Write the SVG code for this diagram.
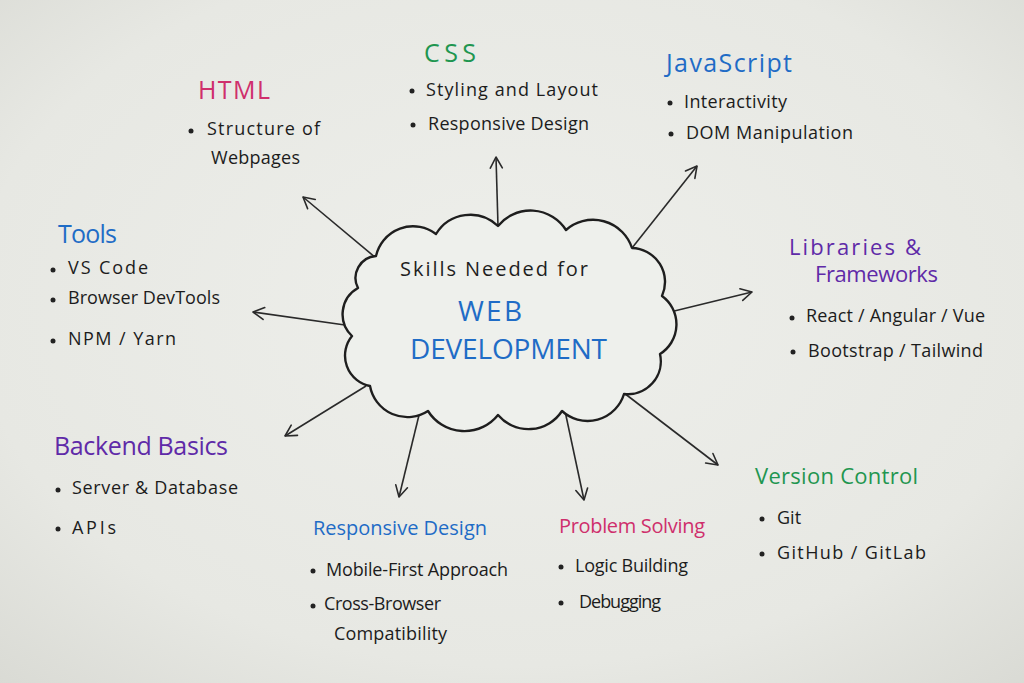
<svg xmlns="http://www.w3.org/2000/svg" width="1024" height="683" viewBox="0 0 1024 683">
<defs>
<radialGradient id="bg" cx="50%" cy="45%" r="75%">
<stop offset="0" stop-color="#eeefeb"/>
<stop offset="0.7" stop-color="#e7e8e3"/>
<stop offset="1" stop-color="#d9dad4"/>
</radialGradient>
<marker id="arr" markerWidth="16" markerHeight="16" refX="13" refY="8" orient="auto" markerUnits="userSpaceOnUse">
<path d="M2,2 L13,8 L2,14" fill="none" stroke="#2a2a2a" stroke-width="1.6" stroke-linecap="round" stroke-linejoin="round"/>
</marker>
</defs>
<style>
text{font-family:"Open Sans","Liberation Sans",sans-serif;}
.h{font-size:25px;font-weight:500;}
.t{font-size:18px;fill:#1c1c1c;}
.dot{fill:#222;}
.pink{fill:#cf2f6c;}
.green{fill:#1f9650;}
.blue{fill:#1f6cc6;}
.purple{fill:#5f2aa8;}
.line{stroke:#2a2a2a;stroke-width:1.6;fill:none;marker-end:url(#arr);}
</style>
<rect width="1024" height="683" fill="url(#bg)"/>

<g id="connectors">
<line class="line" x1="376" y1="258" x2="303" y2="197"/>
<line class="line" x1="498" y1="226" x2="496" y2="157"/>
<line class="line" x1="632" y1="248" x2="697" y2="166"/>
<line class="line" x1="662" y1="314" x2="752" y2="292"/>
<line class="line" x1="624" y1="393" x2="718" y2="465"/>
<line class="line" x1="565" y1="411" x2="584" y2="500"/>
<line class="line" x1="420" y1="411" x2="399" y2="497"/>
<line class="line" x1="366" y1="386" x2="285" y2="436"/>
<line class="line" x1="352" y1="326" x2="253" y2="312"/>
</g>

<g id="center">
<path d="M376,256 A38,38 0 0 1 436,234 A40,40 0 0 1 498,226 A42,42 0 0 1 566,230 A41,41 0 0 1 632,248 A34,34 0 0 1 662,296 A35,35 0 0 1 660,354 A33,33 0 0 1 624,394 A38,38 0 0 1 562,411 A40,40 0 0 1 498,415 A43,43 0 0 1 428,411 A38,38 0 0 1 370,386 A31,31 0 0 1 352,336 A30,30 0 0 1 358,288 A22,22 0 0 1 376,256 Z" fill="#eef0ec" stroke="#1e1e1e" stroke-width="2.4" stroke-linejoin="round"/>
<text x="400" y="276" style="font-size:20px;fill:#1e1e1e" textLength="188">Skills Needed for</text>
<text x="458" y="321" class="blue" style="font-size:28px;font-weight:500" textLength="64">WEB</text>
<text x="410" y="359" class="blue" style="font-size:28px;font-weight:500" textLength="197">DEVELOPMENT</text>
</g>

<g id="html">
<text x="198" y="99" class="h pink" textLength="72">HTML</text>
<circle class="dot" cx="191" cy="131" r="2.5"/>
<text x="207" y="135" class="t" textLength="113">Structure of</text>
<text x="211" y="164" class="t" textLength="89">Webpages</text>
</g>

<g id="css">
<text x="424" y="62" class="h green" textLength="52">CSS</text>
<circle class="dot" cx="412" cy="91" r="2.5"/>
<text x="426" y="96" class="t" textLength="172">Styling and Layout</text>
<circle class="dot" cx="413" cy="125" r="2.5"/>
<text x="428" y="130" class="t" textLength="161">Responsive Design</text>
</g>

<g id="javascript">
<text x="666" y="72" class="h blue" textLength="126">JavaScript</text>
<circle class="dot" cx="670" cy="103" r="2.5"/>
<text x="684" y="108" class="t" textLength="103">Interactivity</text>
<circle class="dot" cx="671" cy="134" r="2.5"/>
<text x="686" y="139" class="t" textLength="167">DOM Manipulation</text>
</g>

<g id="libraries">
<text x="789" y="255" class="h purple" style="font-size:22px" textLength="132">Libraries &amp;</text>
<text x="815" y="282" class="h purple" style="font-size:22px" textLength="123">Frameworks</text>
<circle class="dot" cx="792" cy="318" r="2.5"/>
<text x="806" y="322" class="t" textLength="179">React / Angular / Vue</text>
<circle class="dot" cx="793" cy="352" r="2.5"/>
<text x="808" y="357" class="t" textLength="175">Bootstrap / Tailwind</text>
</g>

<g id="tools">
<text x="58" y="243" class="h blue" textLength="59">Tools</text>
<circle class="dot" cx="53" cy="270" r="2.5"/>
<text x="68" y="274" class="t" textLength="80">VS Code</text>
<circle class="dot" cx="53" cy="300" r="2.5"/>
<text x="68" y="304" class="t" textLength="152">Browser DevTools</text>
<circle class="dot" cx="53" cy="341" r="2.5"/>
<text x="68" y="345" class="t" textLength="108">NPM / Yarn</text>
</g>

<g id="backend">
<text x="54" y="455" class="h purple" textLength="174">Backend Basics</text>
<circle class="dot" cx="58" cy="490" r="2.5"/>
<text x="72" y="494" class="t" textLength="166">Server &amp; Database</text>
<circle class="dot" cx="58" cy="529" r="2.5"/>
<text x="72" y="534" class="t" textLength="44">APIs</text>
</g>

<g id="responsive">
<text x="313" y="535" class="h blue" style="font-size:20px" textLength="174">Responsive Design</text>
<circle class="dot" cx="313" cy="571" r="2.5"/>
<text x="326" y="576" class="t" textLength="182">Mobile-First Approach</text>
<circle class="dot" cx="313" cy="606" r="2.5"/>
<text x="324" y="610" class="t" textLength="117">Cross-Browser</text>
<text x="334" y="640" class="t" textLength="113">Compatibility</text>
</g>

<g id="problem">
<text x="559" y="533" class="h pink" style="font-size:20px" textLength="146">Problem Solving</text>
<circle class="dot" cx="561" cy="567" r="2.5"/>
<text x="575" y="572" class="t" textLength="113">Logic Building</text>
<circle class="dot" cx="561" cy="603" r="2.5"/>
<text x="579" y="608" class="t" textLength="82">Debugging</text>
</g>

<g id="version">
<text x="755" y="484" class="h green" style="font-size:22px" textLength="163">Version Control</text>
<circle class="dot" cx="762" cy="519" r="2.5"/>
<text x="777" y="524" class="t">Git</text>
<circle class="dot" cx="762" cy="554" r="2.5"/>
<text x="777" y="559" class="t" textLength="149">GitHub / GitLab</text>
</g>
</svg>
